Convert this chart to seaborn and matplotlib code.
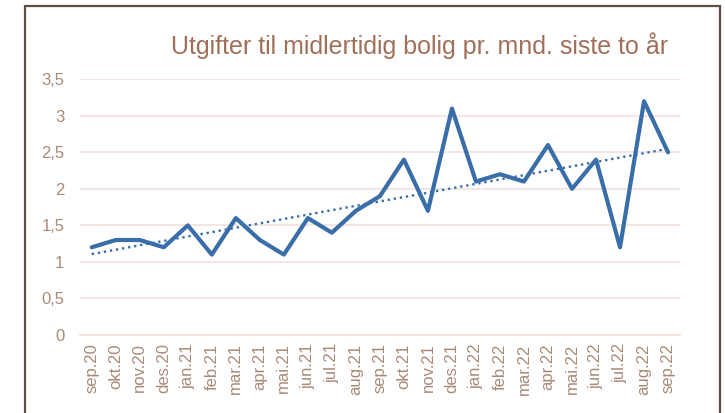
import numpy as np
import pandas as pd
import seaborn as sns
import matplotlib.pyplot as plt
from matplotlib.patches import Rectangle

# data
maaneder = ['sep.20', 'okt.20', 'nov.20', 'des.20', 'jan.21', 'feb.21', 'mar.21',
            'apr.21', 'mai.21', 'jun.21', 'jul.21', 'aug.21', 'sep.21', 'okt.21',
            'nov.21', 'des.21', 'jan.22', 'feb.22', 'mar.22', 'apr.22', 'mai.22',
            'jun.22', 'jul.22', 'aug.22', 'sep.22']
utgifter = [1.2, 1.3, 1.3, 1.2, 1.5, 1.1, 1.6, 1.3, 1.1, 1.6, 1.4, 1.7, 1.9, 2.4,
            1.7, 3.1, 2.1, 2.2, 2.1, 2.6, 2.0, 2.4, 1.2, 3.2, 2.5]
y_ticks = [0, 0.5, 1, 1.5, 2, 2.5, 3, 3.5]
y_labels = ['0', '0,5', '1', '1,5', '2', '2,5', '3', '3,5']
tittel = 'Utgifter til midlertidig bolig pr. mnd. siste to år'

df = pd.DataFrame({'nr': np.arange(len(maaneder)), 'maaned': maaneder, 'verdi': utgifter})

sns.set_style('white')
plt.rcParams['font.family'] = ['Liberation Sans', 'DejaVu Sans']

blaa = '#3a6ea8'
tekst = '#a88a78'
grid = '#f1e0dc'

fig = plt.figure(figsize=(7.25, 4.13), dpi=100)
ax = fig.add_axes([0.110, 0.189, 0.828, 0.619])

# ramme rundt diagrammet
fig.patches.append(Rectangle((0.0345, -0.05), 0.958, 1.035, transform=fig.transFigure,
                             fill=False, edgecolor='#5e4c47', linewidth=1.6))

sns.regplot(data=df, x='nr', y='verdi', ax=ax, scatter=False, ci=None,
            line_kws={'color': blaa, 'linestyle': (0, (1, 1.6)), 'linewidth': 1.7})
sns.lineplot(data=df, x='nr', y='verdi', ax=ax, color=blaa, linewidth=3)

ax.set_xlim(-0.5, len(maaneder) - 0.5)
ax.set_ylim(0, 3.5)
ax.set_yticks(y_ticks)
ax.set_yticklabels(y_labels)
ax.set_xticks(df['nr'])
ax.set_xticklabels(maaneder, rotation=90)
ax.set_xticks(np.arange(-0.5, len(maaneder), 3), minor=True)
ax.tick_params(axis='x', which='major', length=0, pad=6, labelsize=12, colors=tekst)
ax.tick_params(axis='x', which='minor', length=5, color=grid, width=1)
ax.tick_params(axis='y', length=0, pad=11, labelsize=12, colors=tekst)
ax.set_xlabel('')
ax.set_ylabel('')

ax.grid(axis='y', color=grid, linewidth=1.2)
ax.set_axisbelow(True)
for side in ['left', 'right', 'top']:
    ax.spines[side].set_visible(False)
ax.spines['bottom'].set_color(grid)
ax.spines['bottom'].set_linewidth(1.2)

fig.text(0.921, 0.89, tittel, ha='right', va='center', fontsize=18, color='#a0705a')

fig.savefig('out.png', dpi=100)
